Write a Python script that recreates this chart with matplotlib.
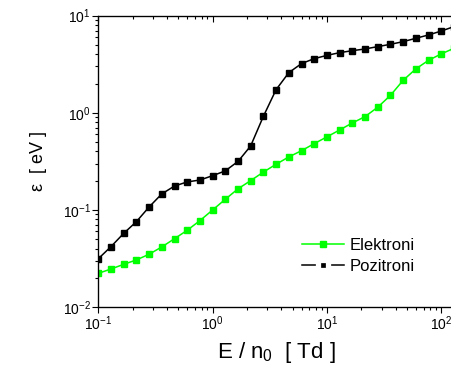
import matplotlib
matplotlib.use('Agg')
import matplotlib.pyplot as plt
from matplotlib.lines import Line2D

plt.rcParams['font.family'] = ['Liberation Sans', 'DejaVu Sans']
plt.rcParams['mathtext.fontset'] = 'custom'
plt.rcParams['mathtext.rm'] = 'Liberation Sans'
plt.rcParams['mathtext.it'] = 'Liberation Sans:italic'

# E/n0 [Td]
e_n0 = [0.1, 0.129, 0.167, 0.215, 0.278, 0.359, 0.464, 0.599, 0.774,
        1.0, 1.29, 1.67, 2.15, 2.78, 3.59, 4.64, 5.99, 7.74,
        10.0, 12.9, 16.7, 21.5, 27.8, 35.9, 46.4, 59.9, 77.4,
        100.0, 129.0]

# srednja energija [eV]
elektroni = [0.0222, 0.0246, 0.0275, 0.0305, 0.0349, 0.0415, 0.0505, 0.0616, 0.0775,
             0.0998, 0.1285, 0.165, 0.200, 0.245, 0.295, 0.351, 0.407, 0.481,
             0.565, 0.665, 0.786, 0.912, 1.14, 1.51, 2.16, 2.83, 3.47,
             4.04, 4.61]
pozitroni = [0.0314, 0.0418, 0.0574, 0.0755, 0.107, 0.146, 0.176, 0.194, 0.203,
             0.225, 0.252, 0.316, 0.455, 0.92, 1.73, 2.59, 3.21, 3.61,
             3.9, 4.16, 4.36, 4.54, 4.80, 5.07, 5.40, 5.85, 6.33,
             6.95, 7.71]

green = '#00ff00'

fig = plt.figure(figsize=(4.52, 3.73), dpi=100)
ax = fig.add_axes([0.2175, 0.177, 0.7876, 0.781])

ax.plot(e_n0, elektroni, color=green, marker='s', ms=5, lw=1.1)
ax.plot(e_n0, pozitroni, color='black', marker='s', ms=5, lw=1.1)

ax.set_xscale('log')
ax.set_yscale('log')
ax.set_xlim(0.1, 130)
ax.set_ylim(0.01, 10)

for s in ax.spines.values():
    s.set_linewidth(0.9)

ax.tick_params(which='both', direction='out', top=False, right=False,
               labelsize=10, width=0.8, pad=1.5)
ax.tick_params(which='major', length=4)
ax.tick_params(which='minor', length=2.2)

# gornja osa sa unutrasnjim podeocima
ax2 = ax.twiny()
ax2.set_xscale('log')
ax2.set_xlim(ax.get_xlim())
ax2.tick_params(which='both', direction='in', top=True, bottom=False,
                labeltop=False, width=0.8)
ax2.tick_params(which='major', length=4)
ax2.tick_params(which='minor', length=2.2)

ax.set_xlabel('E / n$_0$  [ Td ]', fontsize=16, labelpad=5)
ax.set_ylabel('\u03b5  [ eV ]', fontsize=13, labelpad=11)

h_el = Line2D([], [], color=green, marker='s', ms=4, lw=1.1)
h_poz = Line2D([], [], color='black', marker='s', ms=7, lw=1.1,
               mfc='black', mec='white', mew=3.8)
ax.legend([h_el, h_poz], ['Elektroni', 'Pozitroni'], frameon=False,
          fontsize=12, loc='center left',
          bbox_to_anchor=(302 / 452, (373 - 256) / 373),
          bbox_transform=fig.transFigure, borderpad=0, borderaxespad=0,
          handlelength=2.5, handletextpad=0.35, labelspacing=0.35)

fig.savefig('out.png', dpi=100)
